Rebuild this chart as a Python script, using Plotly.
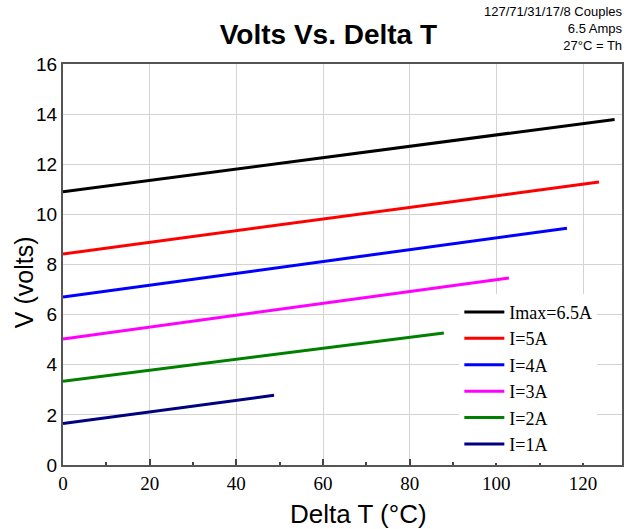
import plotly.graph_objects as go

names = ["Imax=6.5A", "I=5A", "I=4A", "I=3A", "I=2A", "I=1A"]
colors = ["#000000", "#ff0000", "#0000ff", "#ff00ff", "#008000", "#000080"]
dt_start = [0, 0, 0, 0, 0, 0]
dt_end = [127.3, 123.7, 116.3, 102.9, 87.9, 48.7]
v_start = [10.90, 8.42, 6.70, 5.03, 3.34, 1.66]
v_end = [13.79, 11.29, 9.45, 7.46, 5.27, 2.78]
x_ticks = [0, 20, 40, 60, 80, 100, 120]
y_ticks = [0, 2, 4, 6, 8, 10, 12, 14, 16]

fig = go.Figure()
for n, c, x0, x1, y0, y1 in zip(names, colors, dt_start, dt_end, v_start, v_end):
    fig.add_trace(go.Scatter(x=[x0, x1], y=[y0, y1], mode="lines", name=n,
                             line=dict(color=c, width=3)))

fig.update_layout(
    width=634, height=529,
    margin=dict(l=63, r=12, t=64, b=64, autoexpand=False),
    paper_bgcolor="white", plot_bgcolor="white",
    title=dict(text="<b>Volts Vs. Delta T</b>", x=0.518, xanchor="center", y=0.936, yanchor="middle",
               font=dict(family="Liberation Sans, Arial", size=28, color="black")),
    legend=dict(x=0.709, y=0.427, xanchor="left", yanchor="top", bgcolor="white",
                font=dict(family="Liberation Serif, Times New Roman", size=18, color="black"),
                tracegroupgap=0, itemwidth=40),
    showlegend=True,
)
fig.update_xaxes(range=[0, 129], tickvals=x_ticks, ticks="inside", ticklen=6, tickwidth=1.5, tickcolor="#444",
                 minor=dict(ticks="inside", ticklen=3, dtick=10, tickcolor="#444", showgrid=False),
                 showgrid=True, gridcolor="#d3d3d3", gridwidth=1, automargin=False,
                 showline=True, linecolor="#555", linewidth=2, mirror=True, zeroline=False,
                 tickfont=dict(family="Liberation Serif, Times New Roman", size=19, color="black"))
fig.update_yaxes(range=[0, 16], tickvals=y_ticks, ticks="",
                 showgrid=True, gridcolor="#d3d3d3", gridwidth=1, automargin=False,
                 showline=True, linecolor="#555", linewidth=2, mirror=True, zeroline=False,
                 tickfont=dict(family="Liberation Sans, Arial", size=19, color="black"))
fig.add_annotation(text="Delta T (°C)", xref="paper", yref="paper", x=0.5295, y=-0.122,
                   xanchor="center", yanchor="middle", showarrow=False,
                   font=dict(family="Liberation Sans, Arial", size=26, color="black"))
fig.add_annotation(text="V (volts)", xref="paper", yref="paper", x=-0.0698, y=0.456, textangle=-90,
                   xanchor="center", yanchor="middle", showarrow=False,
                   font=dict(family="Liberation Sans, Arial", size=25, color="black"))
fig.add_annotation(text="127/71/31/17/8 Couples<br>6.5 Amps<br>27°C = Th", xref="paper", yref="paper",
                   x=1.005, y=1.155, xanchor="right", yanchor="top", align="right", showarrow=False,
                   font=dict(family="Liberation Sans, Arial", size=13, color="black"))
fig.write_html("out.html", config={"displayModeBar": False},
               post_script="document.body.style.margin='0px';")
